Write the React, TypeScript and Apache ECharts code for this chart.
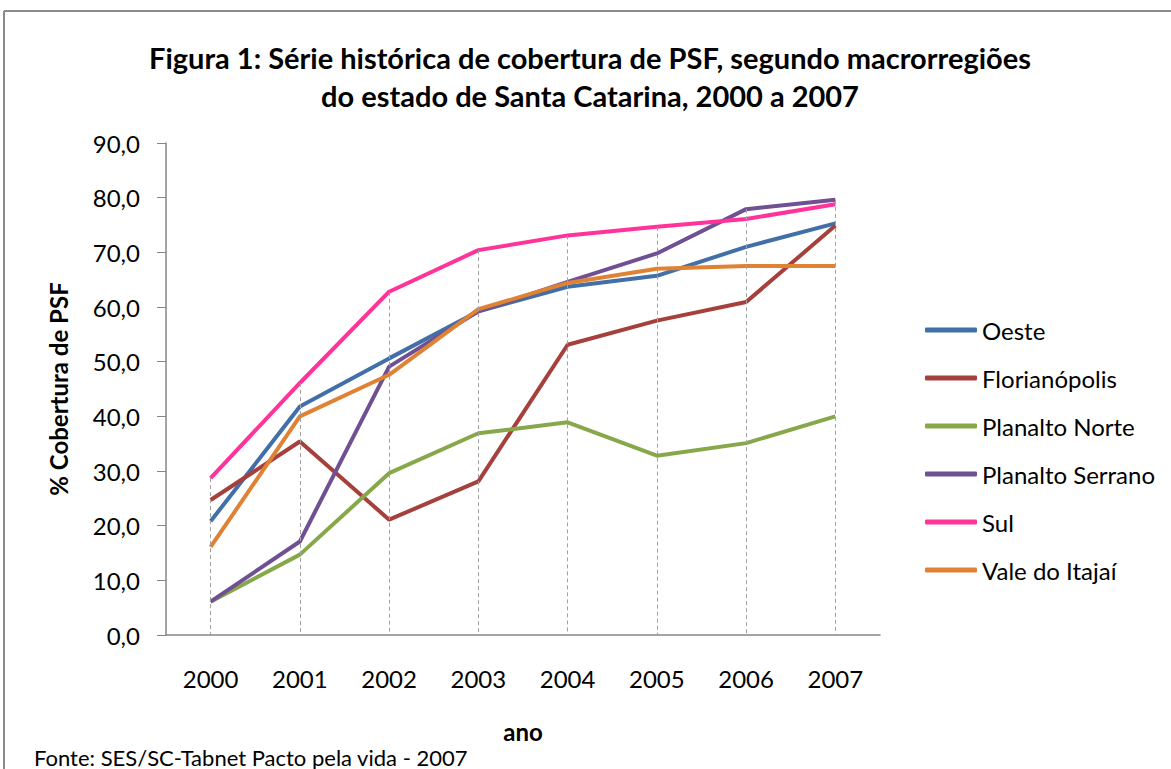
import React, { useEffect, useRef } from "react";
import * as echarts from "echarts";

const years = ["2000", "2001", "2002", "2003", "2004", "2005", "2006", "2007"];
const oeste = [20.8, 41.8, 50.6, 59.2, 63.7, 65.7, 71.0, 75.3];
const florianopolis = [24.7, 35.4, 21.1, 28.1, 53.1, 57.5, 60.9, 74.9];
const planaltoNorte = [6.1, 14.7, 29.6, 36.9, 38.9, 32.8, 35.1, 40.0];
const planaltoSerrano = [6.1, 17.1, 49.1, 59.2, 64.6, 69.8, 77.9, 79.6];
const sul = [28.7, 46.1, 62.8, 70.4, 73.1, 74.7, 76.1, 78.8];
const valeItajai = [16.1, 40.0, 47.6, 59.6, 64.4, 67.0, 67.5, 67.5];

const seriesNames = ["Oeste", "Florianópolis", "Planalto Norte", "Planalto Serrano", "Sul", "Vale do Itajaí"];
const seriesData = [oeste, florianopolis, planaltoNorte, planaltoSerrano, sul, valeItajai];
const colors = ["#4170A8", "#A6403C", "#87A84A", "#6F5093", "#FF3399", "#E08234"];

const FONT = "Lato, 'Open Sans', sans-serif";

export default function App() {
  const ref = useRef<HTMLDivElement>(null);
  useEffect(() => {
    if (!ref.current) return;
    const chart = echarts.init(ref.current, null, { renderer: "svg" });
    const maxPerYear = years.map((_, i) => Math.max(...seriesData.map((s) => s[i])));
    const series: any[] = seriesData.map((d, k) => ({
      name: seriesNames[k],
      type: "line",
      data: d,
      symbol: "none",
      lineStyle: { width: 4, color: colors[k] },
      itemStyle: { color: colors[k] },
      z: 3,
    }));
    series.push({
      name: "drop",
      type: "line",
      data: [],
      symbol: "none",
      silent: true,
      z: 1,
      markLine: {
        silent: true,
        symbol: "none",
        label: { show: false },
        lineStyle: { type: [4, 3], color: "#a0a0a0", width: 1 },
        data: years.map((y, i) => [
          { coord: [y, maxPerYear[i]] },
          { coord: [y, 0] },
        ]),
      },
    });
    chart.setOption({
      animation: false,
      textStyle: { fontFamily: FONT },
      title: {
        text: "Figura 1: Série histórica de cobertura de PSF, segundo macrorregiões\ndo estado de Santa Catarina, 2000 a 2007",
        left: 585,
        textAlign: "center",
        top: 33,
        textStyle: { fontFamily: FONT, fontSize: 29, fontWeight: "bold", color: "#000", lineHeight: 38 },
      },
      legend: {
        orient: "vertical",
        left: 920,
        top: 313,
        data: seriesNames,
        itemWidth: 52,
        itemHeight: 5,
        itemGap: 24,
        icon: "roundRect",
        textStyle: { fontFamily: FONT, fontSize: 24, color: "#000", lineHeight: 24 },
      },
      grid: { left: 166, top: 143, width: 714, bottom: 134, containLabel: false },
      xAxis: {
        type: "category",
        data: years,
        boundaryGap: true,
        axisLine: { lineStyle: { color: "#868686", width: 1.5 } },
        axisTick: { show: false },
        axisLabel: { fontSize: 24, color: "#000", margin: 31, fontFamily: FONT },
        name: "ano",
        nameLocation: "middle",
        nameGap: 84,
        nameTextStyle: { fontSize: 24, fontWeight: "bold", color: "#000", fontFamily: FONT },
      },
      yAxis: {
        type: "value",
        min: 0,
        max: 90,
        interval: 10,
        axisLine: { show: true, lineStyle: { color: "#868686", width: 1.5 } },
        axisTick: { show: true, inside: false, length: 9, lineStyle: { color: "#868686" } },
        splitLine: { show: false },
        axisLabel: {
          fontSize: 24,
          color: "#000",
          margin: 26,
          fontFamily: FONT,
          formatter: (v: number) => v.toFixed(1).replace(".", ","),
        },
        name: "% Cobertura de PSF",
        nameLocation: "middle",
        nameGap: 96,
        nameRotate: 90,
        nameTextStyle: { fontSize: 24, fontWeight: "bold", color: "#000", fontFamily: FONT },
      },
      graphic: [
        { type: "line", shape: { x1: 4, y1: 11, x2: 1171, y2: 11 }, style: { stroke: "#8a8a8a", lineWidth: 2 } },
        { type: "line", shape: { x1: 4, y1: 11, x2: 4, y2: 769 }, style: { stroke: "#8a8a8a", lineWidth: 2 } },
        {
          type: "text",
          left: 34,
          top: 746,
          style: { text: "Fonte: SES/SC-Tabnet Pacto pela vida - 2007", fontSize: 22, fill: "#000", fontFamily: FONT },
        },
      ],
      series,
    });
    return () => chart.dispose();
  }, []);
  return <div ref={ref} style={{ position: "absolute", left: 0, top: 0, width: 1171, height: 769 }} />;
}
